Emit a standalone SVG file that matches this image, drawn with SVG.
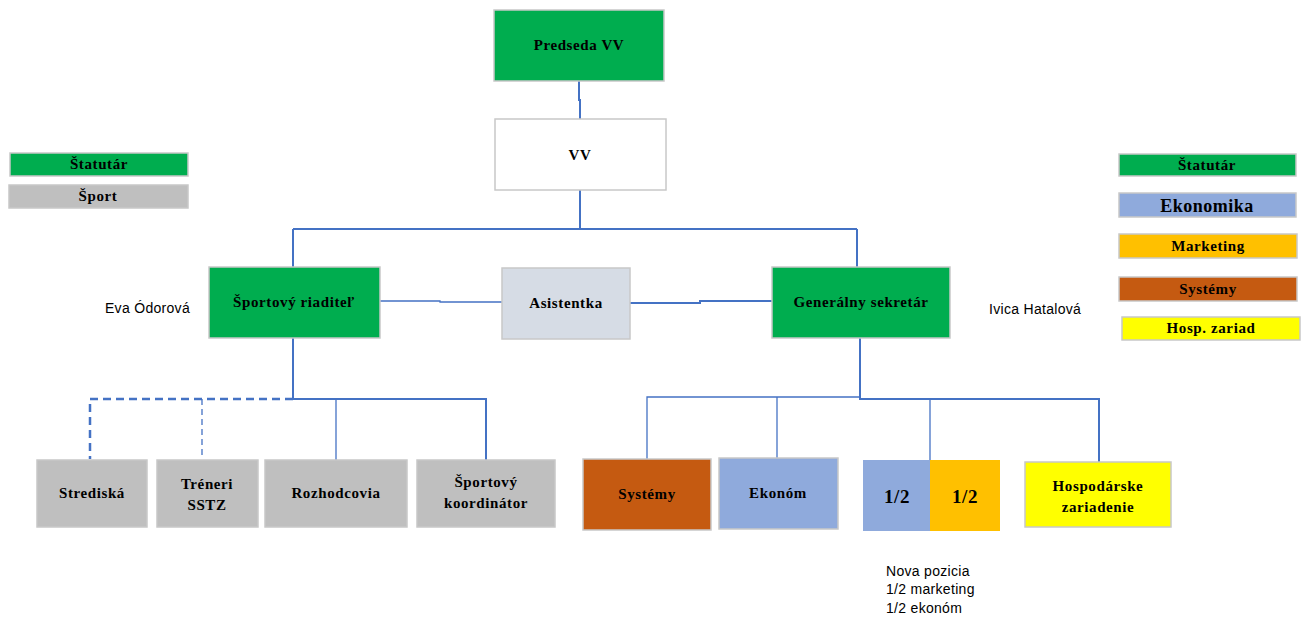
<svg xmlns="http://www.w3.org/2000/svg" width="1307" height="619" viewBox="0 0 1307 619">
<style>
.box{stroke:#C8C8C8;stroke-width:1.5}
.g{fill:#00AD4F}
.gr{fill:#BFBFBF}
.bl{fill:#8FAADC}
.or{fill:#FFC000}
.br{fill:#C55A11}
.ye{fill:#FFFF00}
.t{font-family:"Liberation Serif","DejaVu Serif",serif;font-weight:bold;font-size:15px;letter-spacing:0.6px;fill:#000;text-anchor:middle}
.s{font-family:"Liberation Sans","DejaVu Sans",sans-serif;font-size:14px;letter-spacing:0.3px;fill:#000}
.c{fill:none;stroke:#4472C4;stroke-width:2}
.ct{fill:none;stroke:#4472C4;stroke-width:1.3}
.cd{fill:none;stroke:#4472C4;stroke-width:2.5;stroke-dasharray:8 5}
.cdt{fill:none;stroke:#4472C4;stroke-width:1.3;stroke-dasharray:6 4}
</style>
<rect width="1307" height="619" fill="#fff"/>
<g id="connectors">
<path class="c" d="M579 81 V100 H580 V119"/>
<path class="c" d="M580 190 V229"/>
<path class="c" d="M293 229 H857"/>
<path class="c" d="M293 229 V268"/>
<path class="c" d="M857 229 V268"/>
<path class="ct" d="M380 301 H440 V302 H502"/>
<path class="c" d="M630 303 H700 V301 H772"/>
<path class="c" d="M293 338 V399 H486 V460"/>
<path class="ct" d="M336 399 V460"/>
<path class="cd" d="M293 399 H90 V459"/>
<path class="cdt" d="M202 399 V459"/>
<path class="c" d="M860 338 V399 H1099 V462"/>
<path class="ct" d="M860 397 H647 V459"/>
<path class="ct" d="M777 397 V459"/>
<path class="ct" d="M930 399 V460"/>
</g>
<g id="legend-left">
<g id="leg-statutar-l"><rect class="box g" x="10" y="153" width="178" height="23"/><text class="t" x="99" y="169">Štatutár</text></g>
<g id="leg-sport"><rect class="box gr" x="9" y="185" width="179" height="23"/><text class="t" x="98" y="201">Šport</text></g>
</g>
<g id="legend-right">
<g id="leg-statutar-r"><rect class="box g" x="1119" y="154" width="177" height="22"/><text class="t" x="1207" y="170">Štatutár</text></g>
<g id="leg-ekonomika"><rect class="box bl" x="1119" y="193" width="177" height="24"/><text class="t" x="1207" y="212" style="font-size:18px;letter-spacing:0.5px">Ekonomika</text></g>
<g id="leg-marketing"><rect class="box or" x="1119" y="234" width="178" height="24"/><text class="t" x="1208" y="251">Marketing</text></g>
<g id="leg-systemy"><rect class="box br" x="1119" y="277" width="178" height="24"/><text class="t" x="1208" y="294">Systémy</text></g>
<g id="leg-hosp"><rect class="box ye" x="1122" y="317" width="178" height="23"/><text class="t" x="1211" y="333">Hosp. zariad</text></g>
</g>
<g id="predseda"><rect class="box g" x="494" y="10" width="170" height="71"/><text class="t" x="579" y="50">Predseda VV</text></g>
<g id="vv"><rect class="box" fill="#fff" x="495" y="119" width="171" height="71"/><text class="t" x="580" y="160">VV</text></g>
<g id="sportovy-riaditel"><rect class="box g" x="209" y="267" width="171" height="71"/><text class="t" x="294" y="307">Športový riaditeľ</text></g>
<g id="asistentka"><rect class="box" fill="#D6DCE5" x="502" y="268" width="128" height="71"/><text class="t" x="566" y="308">Asistentka</text></g>
<g id="generalny-sekretar"><rect class="box g" x="772" y="267" width="178" height="71"/><text class="t" x="861" y="307">Generálny sekretár</text></g>
<text class="s" x="190" y="313" text-anchor="end">Eva Ódorová</text>
<text class="s" x="989" y="314">Ivica Hatalová</text>
<g id="strediska"><rect class="box gr" x="37" y="460" width="110" height="67"/><text class="t" x="92" y="498">Strediská</text></g>
<g id="treneri"><rect class="box gr" x="157" y="460" width="101" height="67"/><text class="t" x="207" y="489">Tréneri</text><text class="t" x="207" y="510">SSTZ</text></g>
<g id="rozhodcovia"><rect class="box gr" x="265" y="460" width="142" height="67"/><text class="t" x="336" y="498">Rozhodcovia</text></g>
<g id="sportovy-koordinator"><rect class="box gr" x="417" y="460" width="138" height="67"/><text class="t" x="486" y="487">Športový</text><text class="t" x="486" y="508">koordinátor</text></g>
<g id="systemy"><rect class="box br" x="583" y="459" width="128" height="71"/><text class="t" x="647" y="499">Systémy</text></g>
<g id="ekonom"><rect class="box bl" x="719" y="458" width="119" height="71"/><text class="t" x="778" y="498">Ekonóm</text></g>
<g id="nova-pozicia">
<rect class="bl" x="863" y="460" width="67" height="71"/>
<rect class="or" x="930" y="460" width="70" height="71"/>
<text class="t" x="897" y="503" style="font-size:19px">1/2</text>
<text class="t" x="965" y="503" style="font-size:19px">1/2</text>
</g>
<g id="hospodarske"><rect class="box ye" x="1025" y="462" width="146" height="65"/><text class="t" x="1098" y="491">Hospodárske</text><text class="t" x="1098" y="512">zariadenie</text></g>
<text class="s" x="886" y="576">Nova pozicia</text>
<text class="s" x="886" y="594">1/2 marketing</text>
<text class="s" x="886" y="613">1/2 ekonóm</text>
</svg>
